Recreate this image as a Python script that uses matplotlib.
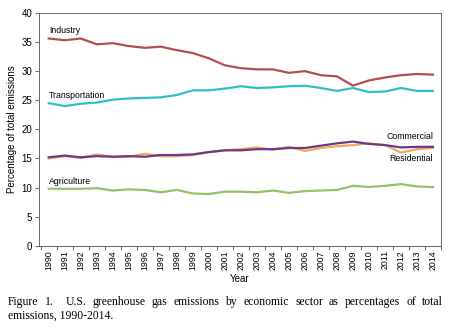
import matplotlib
matplotlib.use("Agg")
import matplotlib.pyplot as plt
import numpy as np

plt.rcParams['font.family'] = ['Liberation Sans', 'DejaVu Sans']

years = list(range(1990, 2015))

industry = [35.6, 35.3, 35.6, 34.6, 34.8, 34.3, 34.0, 34.2, 33.6, 33.1, 32.2, 31.0, 30.5,
            30.3, 30.3, 29.7, 30.0, 29.3, 29.1, 27.5, 28.4, 28.9, 29.3, 29.5, 29.4]
transportation = [24.5, 24.0, 24.4, 24.6, 25.1, 25.3, 25.4, 25.5, 25.9, 26.7, 26.7, 27.0, 27.4,
                  27.1, 27.2, 27.4, 27.5, 27.1, 26.6, 27.1, 26.4, 26.5, 27.1, 26.6, 26.6]
commercial = [15.2, 15.5, 15.2, 15.4, 15.3, 15.4, 15.3, 15.6, 15.6, 15.7, 16.1, 16.4, 16.4,
              16.6, 16.6, 16.8, 16.8, 17.2, 17.6, 17.9, 17.5, 17.3, 16.9, 17.0, 17.0]
residential = [15.0, 15.4, 15.1, 15.7, 15.3, 15.3, 15.8, 15.4, 15.4, 15.6, 16.1, 16.4, 16.6,
               16.9, 16.5, 17.0, 16.3, 16.8, 17.1, 17.3, 17.6, 17.3, 16.0, 16.6, 16.8]
agriculture = [9.8, 9.8, 9.8, 9.9, 9.5, 9.7, 9.6, 9.2, 9.6, 9.0, 8.9, 9.3, 9.3,
               9.2, 9.5, 9.1, 9.4, 9.5, 9.6, 10.3, 10.1, 10.3, 10.6, 10.2, 10.1]

caption_words = ("Figure 1.  U.S. greenhouse gas emissions by economic sector as "
                 "percentages of total").split(" ")
caption_tail = "emissions, 1990-2014."

fig = plt.figure(figsize=(4.5, 3.3), dpi=100)
ax = fig.add_axes([0.087, 0.255, 0.893, 0.706])

x = np.arange(len(years))
ax.plot(x, industry, color='#b0504f', lw=1.6)
ax.plot(x, transportation, color='#2ec0c8', lw=1.6)
ax.plot(x, residential, color='#f2a868', lw=1.6)
ax.plot(x, commercial, color='#6b3a86', lw=1.6)
ax.plot(x, agriculture, color='#94c267', lw=1.6)

fs = 6.3
ax.text(0, 36.2, 'Industry', fontsize=fs, ha='left', va='bottom')
ax.text(0, 25.0, 'Transportation', fontsize=fs, ha='left', va='bottom')
ax.text(0, 10.3, 'Agriculture', fontsize=fs, ha='left', va='bottom')
ax.text(24, 18.0, 'Commercial', fontsize=fs, ha='right', va='bottom')
ax.text(24, 15.8, 'Residential', fontsize=fs, ha='right', va='top')

ax.set_xlim(-0.6, 24.5)
ax.set_ylim(0, 40)
ax.set_yticks(range(0, 41, 5))
ax.set_xticks(x)
ax.set_xticklabels([str(y) for y in years], rotation=90, fontsize=fs)
ax.set_xticks(np.arange(-0.5, 25, 1), minor=True)
ax.tick_params(axis='x', which='major', length=0, pad=3)
ax.tick_params(axis='x', which='minor', length=3, direction='out', width=0.6, color='#555555')
ax.tick_params(axis='y', labelsize=7, length=3, width=0.6, color='#555555', pad=2)
for s in ax.spines.values():
    s.set_color('#666666')
    s.set_linewidth(0.7)

ax.set_ylabel('Percentage of total emissions', fontsize=7, labelpad=3)
ax.set_xlabel('Year', fontsize=7, labelpad=3)

# caption, justified across the page width
cap_font = dict(family='Liberation Serif', fontsize=8.4)
left, right = 8 / 450, 443 / 450
y1, y2 = 1 - 302 / 330, 1 - 316 / 330
fig.canvas.draw()
renderer = fig.canvas.get_renderer()
items = [fig.text(0, y1, w, va='center', **cap_font) for w in caption_words]
widths = [t.get_window_extent(renderer).width / fig.bbox.width for t in items]
gap = (right - left - sum(widths)) / (len(items) - 1)
pos = left
for t, w in zip(items, widths):
    t.set_x(pos)
    pos += w + gap
fig.text(left, y2, caption_tail, va='center', **cap_font)

fig.savefig('out.png', dpi=100)
